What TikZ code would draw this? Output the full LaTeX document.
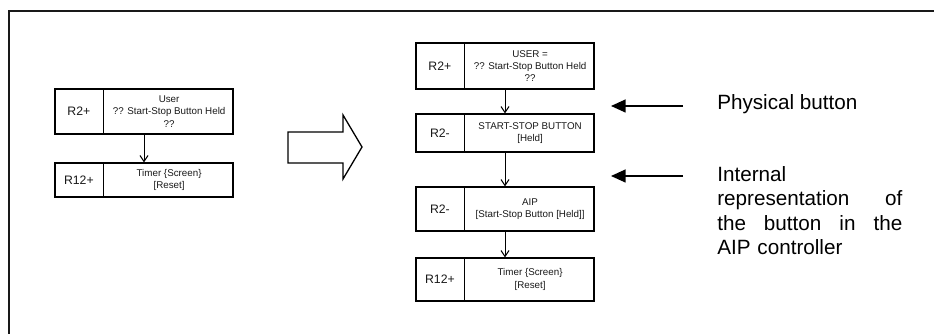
\documentclass[tikz,border=0pt]{standalone}
\usepackage{fontspec}
\setmainfont{Liberation Sans}
\usetikzlibrary{arrows.meta}
\newlength\pxu
\setlength\pxu{0.75pt}
\tikzset{
  boxline/.style={line width=1.2\pxu, draw=black},
  stepbox/.style={boxline, rectangle, inner sep=0pt, minimum width=178\pxu},
  tag/.style={inner sep=0pt, font=\fontsize{9.2pt}{10pt}\selectfont, text=black!90},
  cell/.style={inner sep=0pt, align=center, font=\fontsize{7.35pt}{9.3pt}\selectfont, text=black!90},
  flow/.style={line width=0.75pt, -{Straight Barb[length=4.5pt, width=6pt]}},
  pointer/.style={line width=1.1pt, -{Triangle[length=11pt, width=9.75pt]}},
  note/.style={inner sep=0pt, font=\fontsize{15.5pt}{18.4pt}\selectfont, text=black},
  frame/.style={line width=2\pxu, draw=black!90},
  bigarrow/.style={line width=1.3\pxu, draw=black, line join=miter}
}
\begin{document}
\begin{tikzpicture}[x=0.75pt, y=-0.75pt]
\useasboundingbox (0,0) rectangle (934,334);
% outer frame (top and left edges only visible)
\coordinate (fbl) at (9,334);
\coordinate (ftl) at (9,11);
\coordinate (ftr) at (934,11);
\draw[frame] (fbl) -- (ftl) -- (ftr);

% ---- left column ----
\node[stepbox, minimum height=45\pxu] (L1) at (144,111.5) {};
\draw[boxline] ([shift={(49,0)}]L1.north west) -- ([shift={(49,0)}]L1.south west);
\node[tag] (L1t) at ([shift={(24.5,0)}]L1.west) {R2+};
\node[cell] (L1c) at ([shift={(-64.5,0)}]L1.east) {User\\?? Start-Stop Button Held\\??};

\node[stepbox, minimum height=34\pxu] (L2) at (144,180) {};
\draw[boxline] ([shift={(49,0)}]L2.north west) -- ([shift={(49,0)}]L2.south west);
\node[tag] (L2t) at ([shift={(24.5,0)}]L2.west) {R12+};
\node[cell] (L2c) at ([shift={(-64.5,0)}]L2.east) {Timer \{Screen\}\\{[Reset]}};

\draw[flow] (L1.south) -- (L2.north);

% ---- block arrow ----
\draw[bigarrow] (288,132) -- (343,132) -- (343,115) -- (362,147) -- (343,179) -- (343,163) -- (288,163) -- cycle;

% ---- right column ----
\node[stepbox, minimum height=46\pxu] (R1) at (505,66) {};
\draw[boxline] ([shift={(49,0)}]R1.north west) -- ([shift={(49,0)}]R1.south west);
\node[tag] (R1t) at ([shift={(24.5,0)}]R1.west) {R2+};
\node[cell] (R1c) at ([shift={(-64.5,0)}]R1.east) {USER =\\?? Start-Stop Button Held\\??};

\node[stepbox, minimum height=38\pxu] (R2) at (505,133) {};
\draw[boxline] ([shift={(49,0)}]R2.north west) -- ([shift={(49,0)}]R2.south west);
\node[tag] (R2t) at ([shift={(24.5,0)}]R2.west) {R2-};
\node[cell] (R2c) at ([shift={(-64.5,0)}]R2.east) {START-STOP BUTTON\\{[Held]}};

\node[stepbox, minimum height=44\pxu] (R3) at (505,209) {};
\draw[boxline] ([shift={(49,0)}]R3.north west) -- ([shift={(49,0)}]R3.south west);
\node[tag] (R3t) at ([shift={(24.5,0)}]R3.west) {R2-};
\node[cell] (R3c) at ([shift={(-64.5,0)}]R3.east) {AIP\\{[Start-Stop Button [Held]]}};

\node[stepbox, minimum height=43\pxu] (R4) at (505,279.5) {};
\draw[boxline] ([shift={(49,0)}]R4.north west) -- ([shift={(49,0)}]R4.south west);
\node[tag] (R4t) at ([shift={(24.5,0)}]R4.west) {R12+};
\node[cell] (R4c) at ([shift={(-64.5,0)}]R4.east) {Timer \{Screen\}\\{[Reset]}};

\draw[flow] (R1.south) -- (R2.north);
\draw[flow] (R2.south) -- (R3.north);
\draw[flow] (R3.south) -- (R4.north);

% ---- annotations ----
\coordinate (p1s) at (683,106);
\coordinate (p1e) at (611,106);
\coordinate (p2s) at (683,176);
\coordinate (p2e) at (611,176);
\draw[pointer] (p1s) -- (p1e);
\draw[pointer] (p2s) -- (p2e);

\node[note, anchor=base west] (n1) at (717,109.5) {Physical button};
\node[note, anchor=north west, text width=185\pxu, align=left] (n2) at (717,166)
  {Internal\\representation\hfill of\\the\hfill button\hfill in\hfill the\\AIP controller};
\end{tikzpicture}
\end{document}
